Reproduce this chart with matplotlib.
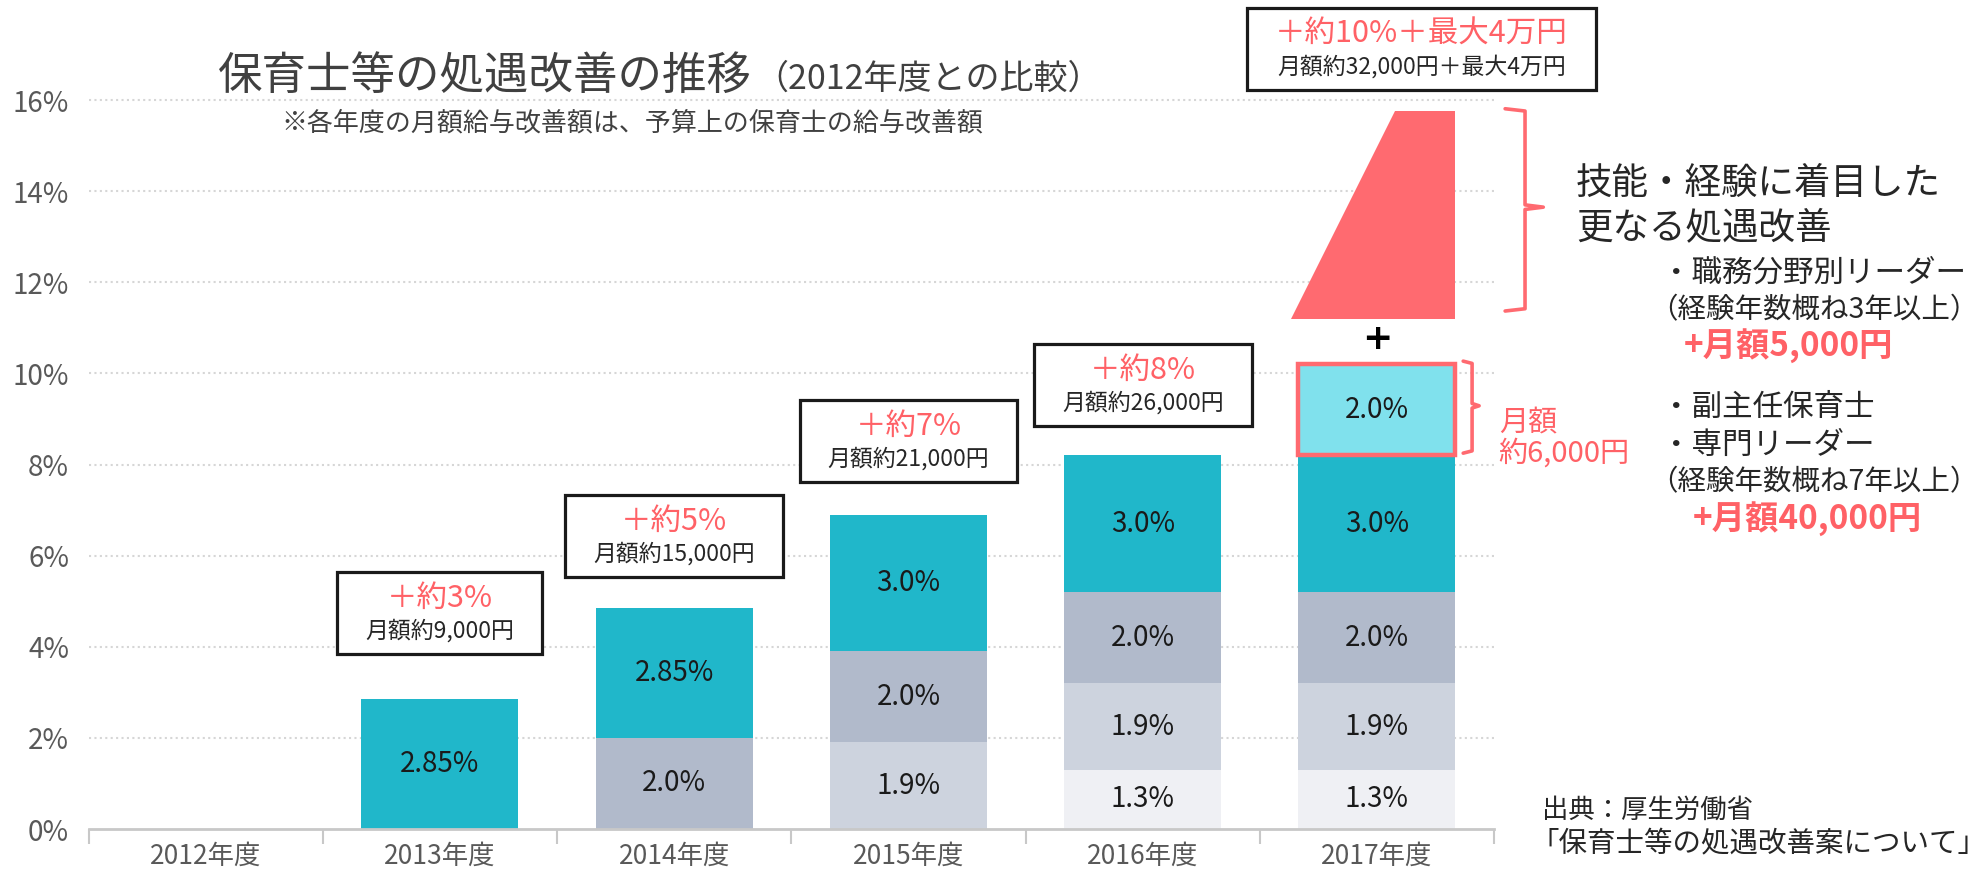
import matplotlib
matplotlib.use('Agg')
import matplotlib.pyplot as plt
import numpy as np
from matplotlib.patches import Polygon, Rectangle
from matplotlib.transforms import Bbox

plt.rcParams['font.family'] = ['Noto Sans CJK JP', 'DejaVu Sans']

# data
years = ['2012年度', '2013年度', '2014年度', '2015年度', '2016年度', '2017年度']
layer_13 = [0, 0, 0, 0, 1.3, 1.3]
layer_19 = [0, 0, 0, 1.9, 1.9, 1.9]
layer_20 = [0, 0, 2.0, 2.0, 2.0, 2.0]
layer_new = [0, 2.85, 2.85, 3.0, 3.0, 3.0]
layer_extra = [0, 0, 0, 0, 0, 2.0]
rate_labels = ['', '＋約3%', '＋約5%', '＋約7%', '＋約8%', '＋約10%＋最大4万円']
amount_labels = ['', '月額約9,000円', '月額約15,000円', '月額約21,000円',
                 '月額約26,000円', '月額約32,000円＋最大4万円']
skill_low = 11.2    # 技能・経験に着目した処遇改善 (bottom / top of wedge)
skill_high = 15.76

RED = '#FF6166'
PINK = '#FF6A70'
colors = ['#EFF0F4', '#CDD3DE', '#B1BACB', '#20B7CA', '#80E1ED']
layers = [layer_13, layer_19, layer_20, layer_new, layer_extra]

fig = plt.figure(figsize=(19.85, 8.71), dpi=100)
ax = fig.add_axes([0.0446, 0.0482, 0.7081, 0.9415])

x = np.arange(len(years))
w = 0.67
bottom = np.zeros(len(years))
for k, (vals, c) in enumerate(zip(layers, colors)):
    vals = np.array(vals)
    idx = vals > 0
    if k == 4:
        ax.bar(x[idx], vals[idx], w, bottom=bottom[idx], color=c,
               edgecolor=PINK, linewidth=3.2, zorder=3)
    else:
        ax.bar(x[idx], vals[idx], w, bottom=bottom[idx], color=c, zorder=2)
    for i in np.where(idx)[0]:
        v = vals[i]
        s = ('%.2f%%' % v) if round(v * 10) != v * 10 else ('%.1f%%' % v)
        ax.text(x[i], bottom[i] + v / 2, s, ha='center', va='center',
                fontsize=20, color='#1a1a1a', zorder=4)
    bottom = bottom + vals

# base total without the extra 2017 layer
base = np.array(layer_13) + np.array(layer_19) + np.array(layer_20) + np.array(layer_new)

# wedge for skill-based improvement
ax.add_patch(Polygon([(5 - 0.367, skill_low), (5 + w / 2, skill_low),
                      (5 + w / 2, skill_high), (5 + 0.077, skill_high)],
                     closed=True, color=PINK, zorder=2, lw=0))
ax.text(5, 10.75, '+', ha='center', va='center', fontsize=26,
        fontweight='bold', color='black', family='DejaVu Sans')

# brackets
def brace(x0, x1, xt, y0, y1, ym):
    xs = [x0, x1, x1, xt, x1, x1, x0]
    ys = [y1, y1 - 0.05, ym + 0.05, ym, ym - 0.05, y0 + 0.05, y0]
    ax.plot(xs, ys, color=PINK, lw=2.6, clip_on=False, zorder=3,
            solid_joinstyle='round', solid_capstyle='round')

brace(5.547, 5.632, 5.71, 11.37, 15.81, 13.65)
brace(5.368, 5.406, 5.436, 8.25, 10.27, 9.29)

# axes styling
ax.set_xlim(-0.5, 5.5)
ax.set_ylim(0, 18)
ax.set_yticks(np.arange(0, 17, 2))
ax.set_yticklabels(['%d%%' % v for v in range(0, 17, 2)])
ax.set_xticks(x)
ax.set_xticklabels(years)
ax.set_xticks(np.arange(-0.5, 6, 1), minor=True)
ax.tick_params(axis='y', length=0, labelsize=20, labelcolor='#595959', pad=14)
ax.tick_params(axis='x', which='major', length=0, labelsize=19,
               labelcolor='#595959', pad=10)
ax.tick_params(axis='x', which='minor', length=11, width=1.5, color='#C8C8C8')
for s in ['top', 'right', 'left']:
    ax.spines[s].set_visible(False)
ax.spines['bottom'].set_color('#C8C8C8')
ax.spines['bottom'].set_linewidth(2)
ax.set_axisbelow(True)
ax.yaxis.grid(True, color='#D6D6D6', lw=1.5, linestyle=(0, (1, 1.6)))
for gl in ax.yaxis.get_gridlines()[:1]:
    gl.set_visible(False)

# annotation boxes
gaps = [0, 2.21, 1.9, 1.93, 1.86]
pairs = []
for i in range(1, 6):
    if i == 5:
        xc, yr = 5.19, skill_high + 1.68
    else:
        xc, yr = x[i], base[i] + gaps[i]
    t1 = ax.text(xc, yr, rate_labels[i], ha='center', va='center',
                 fontsize=22, color=RED, zorder=6, clip_on=False)
    t2 = ax.text(xc, yr - 0.7, amount_labels[i], ha='center', va='center',
                 fontsize=16.5, color='#262626', zorder=6, clip_on=False)
    pairs.append((t1, t2))

# titles and side notes
fig.text(0.110, 0.898, '保育士等の処遇改善の推移', fontsize=32, color='#404040',
         ha='left', va='baseline')
fig.text(0.380, 0.898, '（2012年度との比較）', fontsize=24.5, color='#404040',
         ha='left', va='baseline')
fig.text(0.1415, 0.859, '※各年度の月額給与改善額は、予算上の保育士の給与改善額',
         fontsize=18.7, color='#404040', ha='left', va='center')

dark = '#262626'
fig.text(0.794, 0.789, '技能・経験に着目した', fontsize=26.3, color=dark, va='center')
fig.text(0.794, 0.738, '更なる処遇改善', fontsize=26.3, color=dark, va='center')
fig.text(0.837, 0.686, '・職務分野別リーダー', fontsize=22, color=dark, va='center')
fig.text(0.831, 0.644, '（経験年数概ね3年以上）', fontsize=20.5, color=dark, va='center')
fig.text(0.848, 0.602, '+月額5,000円', fontsize=24, color=RED, va='center',
         fontweight='bold')
fig.text(0.837, 0.532, '・副主任保育士', fontsize=22, color=dark, va='center')
fig.text(0.837, 0.488, '・専門リーダー', fontsize=22, color=dark, va='center')
fig.text(0.831, 0.446, '（経験年数概ね7年以上）', fontsize=20.5, color=dark, va='center')
fig.text(0.853, 0.403, '+月額40,000円', fontsize=24, color=RED, va='center',
         fontweight='bold')
fig.text(0.755, 0.514, '月額', fontsize=21, color=RED, va='center')
fig.text(0.755, 0.479, '約6,000円', fontsize=21, color=RED, va='center')
fig.text(0.777, 0.070, '出典：厚生労働省', fontsize=19, color=dark, va='center')
fig.text(0.771, 0.031, '「保育士等の処遇改善案について」', fontsize=20.5, color=dark,
         va='center')

# draw frames around the annotation text pairs
fig.canvas.draw()
r = fig.canvas.get_renderer()
inv = fig.transFigure.inverted()
for t1, t2 in pairs:
    bb = Bbox.union([t1.get_window_extent(r), t2.get_window_extent(r)])
    x0, y0 = inv.transform((bb.x0 - 28, bb.y0 - 12))
    x1, y1 = inv.transform((bb.x1 + 28, bb.y1 + 11))
    ax.add_patch(Rectangle((x0, y0), x1 - x0, y1 - y0, transform=fig.transFigure,
                           facecolor='white', edgecolor='#1a1a1a', lw=2.3,
                           zorder=5, clip_on=False))

fig.savefig('out.png', dpi=100)
